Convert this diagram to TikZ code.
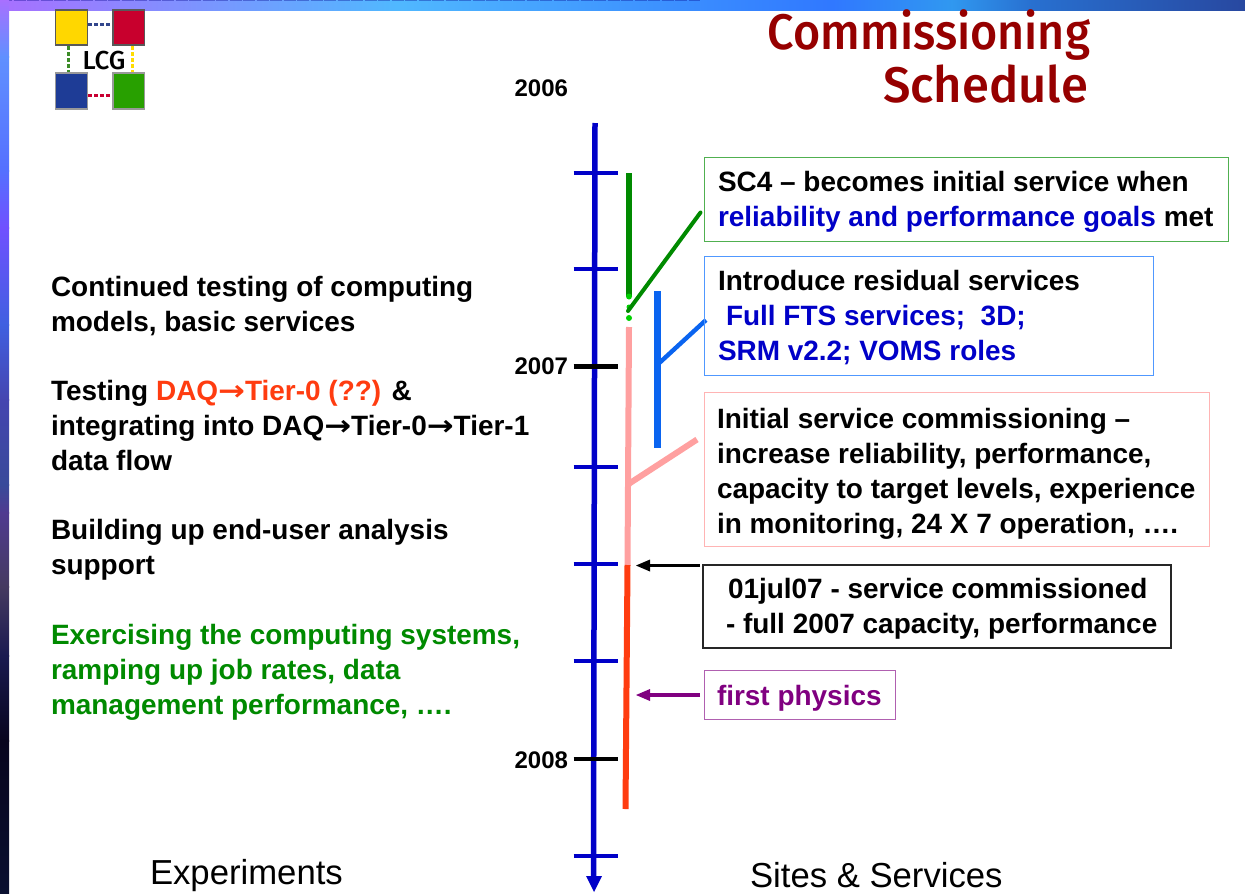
\documentclass[tikz,border=0pt]{standalone}
\usepackage{fontspec}
\usepackage{graphicx}
\setmainfont{Liberation Sans}
\newfontfamily\comic[UprightFont=* Medium,BoldFont=* Medium]{Fira Sans}
\newfontfamily\arrowfont{DejaVu Sans}
\newcommand{\rarr}{\scalebox{1.15}[1]{\arrowfont\bfseries →}}
\definecolor{axisblue}{HTML}{0000C8}
\definecolor{darkgr}{HTML}{008A00}
\definecolor{brightgr}{HTML}{00D000}
\definecolor{boxblue}{HTML}{0A64F0}
\definecolor{boxpink}{HTML}{FFA0A0}
\definecolor{redor}{HTML}{FF3C10}
\definecolor{purp}{HTML}{800080}
\definecolor{maroon}{HTML}{960000}
\definecolor{txtblue}{HTML}{0000C8}
\definecolor{txtgreen}{HTML}{008A00}
\definecolor{edgegr}{HTML}{50B050}
\definecolor{edgebl}{HTML}{5098FF}
\definecolor{edgepk}{HTML}{FFB4B4}
\definecolor{edgepu}{HTML}{B060B0}
\tikzset{x=1pt,y=-1pt,
  every node/.style={inner sep=0pt,outer sep=0pt},
  lbl/.style={font=\fontsize{27.95}{35}\selectfont\bfseries,align=left,anchor=north west},
  yearlbl/.style={font=\fontsize{24}{30}\selectfont\bfseries,anchor=east},
  foot/.style={font=\fontsize{34.7}{40}\selectfont,anchor=base west},
  tick/.style={line width=4.6pt,axisblue},
  title/.style={font=\comic\fontsize{50}{56}\selectfont,maroon,anchor=base east},
  logodash/.style={line width=3pt,dash pattern=on 4pt off 2pt},
  logosq/.style={draw=black!65,line width=1.2pt}
}
\newcommand{\hseg}[4]{\fill[left color={#3},right color={#4}] (#1,0) rectangle (#2,10);}
\newcommand{\vseg}[4]{\fill[top color={#3},bottom color={#4}] (0,#1) rectangle (9,#2);}
\definecolor{h0}{HTML}{A870FF}\definecolor{h1}{HTML}{50B8FF}\definecolor{h2}{HTML}{3078FF}
\definecolor{h3}{HTML}{3098F0}\definecolor{h4}{HTML}{2870D0}\definecolor{h5}{HTML}{2848A0}
\definecolor{v1}{HTML}{6090FF}\definecolor{v2}{HTML}{5570FF}\definecolor{v3}{HTML}{7050FF}
\definecolor{v4}{HTML}{4060E0}\definecolor{v5}{HTML}{4545B0}\definecolor{v6}{HTML}{384A9A}
\definecolor{v7}{HTML}{503A90}\definecolor{v8}{HTML}{453A60}\definecolor{v9}{HTML}{1A1A50}
\definecolor{v10}{HTML}{08051E}\definecolor{v11}{HTML}{0A1030}
\begin{document}
\begin{tikzpicture}
\useasboundingbox (0,0) rectangle (1245,894);
\fill[white] (0,0) rectangle (1245,894);
% frame
\hseg{0}{397}{h0}{h1}
\hseg{396.5}{833}{h1}{h2}
\hseg{832.5}{952}{h2}{h3}
\hseg{951.5}{1032}{h3}{h4}
\hseg{1031.5}{1245}{h4}{h5}
\draw[line width=0.9pt,color=black!45!blue,opacity=.35,dash pattern=on 12pt off 1.5pt] (0,0.5) -- (700,0.5);
\vseg{0}{57}{h0}{v1}
\vseg{56.5}{171}{v1}{v2}
\vseg{170.5}{228}{v2}{v3}
\vseg{227.5}{325}{v3}{v4}
\vseg{324.5}{400}{v4}{v5}
\vseg{399.5}{485}{v5}{v6}
\vseg{484.5}{513}{v6}{v7}
\vseg{512.5}{587}{v7}{v8}
\vseg{586.5}{656}{v8}{v9}
\vseg{655.5}{741}{v9}{v10}
\vseg{740.5}{894}{v10}{v11}
% logo
\draw[logodash,color={rgb,255:red,50;green,70;blue,140}] (88,24) -- (113,24);
\draw[logodash,color={rgb,255:red,60;green,140;blue,40}] (68,46) -- (68,73);
\draw[logodash,color={rgb,255:red,255;green,220;blue,0}] (132,46) -- (132,73);
\draw[logodash,color={rgb,255:red,200;green,0;blue,50}] (88,95) -- (113,95);
\filldraw[logosq,fill={rgb,255:red,255;green,215;blue,0}] (55.5,10) rectangle (87.5,45);
\filldraw[logosq,fill={rgb,255:red,200;green,0;blue,45}] (113,10) rectangle (144.5,45);
\filldraw[logosq,draw=black!40,fill={rgb,255:red,30;green,60;blue,150}] (55.5,73) rectangle (87.5,109);
\filldraw[logosq,draw=black!40,fill={rgb,255:red,40;green,160;blue,0}] (113,73) rectangle (144.5,109);
\node[font=\comic\fontsize{26}{28}\selectfont,anchor=center] (logo) at (104,60.5) {LCG};
% title
\node[title] (t1) at (1090,49) {\scalebox{0.933}[1]{Commissioning}};
\node[title] (t2) at (1088,102) {\scalebox{0.98}[1]{Schedule}};
% axis
\draw[line width=5.5pt,axisblue] (595,123) -- (593.5,878);
\fill[axisblue] (586,876) -- (602,876) -- (594,892) -- cycle;
\foreach \y in {173,269,467,564,661,856}{
  \draw[tick] (573.5,\y) -- (617.5,\y);
}
\foreach \y in {366.5,759}{ \draw[line width=4.6pt,black] (573.5,\y) -- (617.5,\y); }
\node[yearlbl] (y6) at (568,88) {2006};
\node[yearlbl] (y7) at (568,366) {2007};
\node[yearlbl] (y8) at (568,760) {2008};
% bars
\draw[line width=6pt,darkgr] (629,173) -- (629,297);
\fill[brightgr] (629,296.5) circle (3pt);
\fill[brightgr] (629,307) circle (2.5pt);
\fill[brightgr] (629,318) circle (3pt);
\draw[line width=4pt,darkgr,line cap=round] (628,311) -- (700.5,212.5);
\draw[line width=6.2pt,boxblue] (657.5,291) -- (657.5,448);
\draw[line width=4.4pt,boxblue] (656,366) -- (706,320);
\draw[line width=6pt,boxpink] (629,327) -- (627.5,565);
\draw[line width=6pt,boxpink] (627,485) -- (697,439.5);
\draw[line width=6pt,redor] (627.5,565) -- (625.5,809);
% boxes
\draw[line width=1pt,edgegr] (704,157.5) rectangle (1228,241);
\draw[line width=1pt,edgebl] (704,256) rectangle (1153,375);
\draw[line width=1pt,edgepk] (704,392) rectangle (1209,546);
\draw[line width=1.2pt,black!85] (703,565) rectangle (1171,648);
\draw[line width=1pt,edgepu] (704,670) rectangle (895,719);
\node[lbl] (s1) at (718,171) {SC4 – becomes initial service when\\\textcolor{txtblue}{reliability and performance goals} met};
\node[lbl] (s2) at (718,270) {Introduce residual services\\\textcolor{txtblue}{\hspace*{8pt}Full FTS services;\ \ 3D;}\\\textcolor{txtblue}{SRM v2.2; VOMS roles}};
\node[lbl] (s3) at (717,408) {Initial service commissioning –\\increase reliability, performance,\\capacity to target levels, experience\\in monitoring, 24 X 7 operation, ….};
\node[lbl] (s4) at (728,578) {01jul07 - service commissioned\\[-0.2pt]\hspace*{-2pt}- full 2007 capacity, performance};
\node[lbl,purp] (s5) at (717,685) {first physics};
% arrows
\coordinate (a1) at (700,565.5);
\coordinate (a1e) at (648,565.5);
\coordinate (a2) at (700,695);
\coordinate (a2e) at (648,695);
\draw[line width=3.2pt,black] (a1) -- (a1e);
\fill[black] (636,565.5) -- (650,559.5) -- (650,571.5) -- cycle;
\draw[line width=3.2pt,purp] (a2) -- (a2e);
\fill[purp] (636,695) -- (650,689) -- (650,701) -- cycle;
% left text
\node[lbl] (e1) at (51,276) {Continued testing of computing\\models, basic services};
\node[lbl] (e2) at (51,380) {Testing \textcolor{redor}{DAQ\rarr Tier-0 (??)} \&\\integrating into DAQ\rarr Tier-0\rarr Tier-1\\data flow};
\node[lbl] (e3) at (51,519) {Building up end-user analysis\\support};
\node[lbl,txtgreen] (e4) at (51,624) {Exercising the computing systems,\\ramping up job rates, data\\management performance, ….};
\node[foot] (f1) at (150,884) {Experiments};
\node[foot] (f2) at (750,887) {Sites \& Services};
\end{tikzpicture}
\end{document}
